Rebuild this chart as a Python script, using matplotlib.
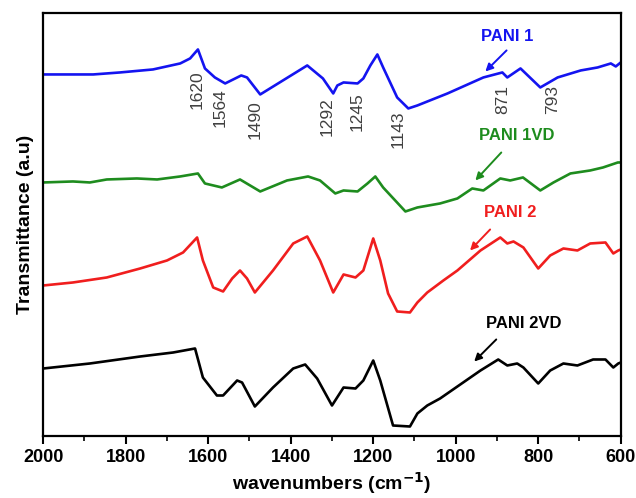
import numpy as np
import matplotlib
matplotlib.use("Agg")
import matplotlib.pyplot as plt

plt.rcParams['font.family'] = ['Liberation Sans', 'DejaVu Sans']

# wavenumbers (cm-1) and transmittance (a.u.)
wn_pani1 = [2000, 1879, 1814, 1734, 1668, 1644, 1625, 1608, 1584, 1559, 1520, 1506, 1474,
            1360, 1322, 1297, 1287, 1272, 1238, 1224, 1207, 1190, 1176, 1142, 1115, 1093,
            1020, 933, 887, 875, 843, 795, 753, 697, 656, 624, 612, 600]
t_pani1 = [361, 361, 363, 366, 372, 377, 386, 367, 358, 352, 360, 358, 341,
           370, 357, 342, 350, 353, 352, 357, 370, 381, 368, 338, 327, 330,
           342, 358, 363, 358, 367, 348, 358, 365, 368, 372, 369, 373]

wn_pani1vd = [2000, 1928, 1887, 1846, 1773, 1724, 1668, 1625, 1608, 1567, 1523, 1474, 1409,
              1358, 1329, 1292, 1272, 1238, 1214, 1195, 1176, 1122, 1093, 1038, 996, 960,
              933, 892, 868, 837, 795, 763, 722, 674, 643, 607, 600]
t_pani1vd = [253, 254, 253, 256, 257, 256, 259, 262, 252, 248, 256, 244, 255,
             259, 255, 242, 245, 244, 252, 259, 248, 224, 228, 232, 237, 247,
             245, 257, 255, 258, 245, 253, 262, 265, 268, 273, 273]

wn_pani2 = [2000, 1928, 1846, 1765, 1700, 1661, 1627, 1613, 1588, 1564, 1542, 1523, 1506,
            1487, 1443, 1394, 1360, 1329, 1297, 1272, 1243, 1224, 1200, 1183, 1164, 1142,
            1111, 1093, 1069, 1030, 996, 940, 892, 875, 860, 836, 800, 771, 739, 705,
            674, 637, 618, 606, 600]
t_pani2 = [150, 153, 158, 167, 175, 183, 198, 175, 148, 144, 157, 165, 157,
           143, 165, 192, 199, 175, 143, 161, 158, 165, 197, 175, 142, 124,
           123, 133, 143, 155, 165, 185, 198, 192, 194, 188, 167, 180, 187, 185,
           192, 193, 182, 185, 186]

wn_pani2vd = [2000, 1887, 1765, 1685, 1632, 1613, 1579, 1564, 1530, 1518, 1487, 1443, 1394,
              1365, 1336, 1300, 1272, 1243, 1224, 1200, 1183, 1152, 1111, 1093, 1069, 1038,
              982, 940, 897, 875, 851, 836, 800, 771, 739, 705, 667, 637, 618, 606, 600]
t_pani2vd = [67, 72, 79, 83, 87, 58, 40, 40, 55, 53, 29, 48, 67,
             71, 57, 30, 48, 47, 55, 75, 55, 10, 9, 22, 30, 37,
             53, 65, 76, 70, 72, 68, 52, 65, 72, 70, 76, 76, 68, 72, 73]

peak_labels = ['1620', '1564', '1490', '1292', '1245', '1143', '871', '793']
peak_x = [1627, 1571, 1487, 1312, 1240, 1140, 885, 766]
peak_y = [365, 347, 335, 338, 343, 325, 350, 350]

names = ['PANI 1', 'PANI 1VD', 'PANI 2', 'PANI 2VD']
colors = ['#1414f0', '#1e8c1e', '#f01e1e', '#000000']
name_xy = [(875, 399), (851, 300), (868, 223), (834, 112)]
arrow_tail = [(872, 387), (885, 285), (912, 208), (897, 98)]
arrow_head = [(933, 362), (957, 253), (970, 183), (960, 72)]

fig = plt.figure(figsize=(6.36, 4.98), dpi=100)
ax = fig.add_axes([0.068, 0.1255, 0.908, 0.8475])

curves = [(wn_pani1, t_pani1), (wn_pani1vd, t_pani1vd),
          (wn_pani2, t_pani2), (wn_pani2vd, t_pani2vd)]
for (wn, t), c in zip(curves, colors):
    ax.plot(wn, t, color=c, lw=1.9, solid_joinstyle='round', solid_capstyle='round')

for lab, x, y in zip(peak_labels, peak_x, peak_y):
    ax.text(x, y, lab, rotation=90, ha='center', va='top', fontsize=12.5, color='#404040')

for name, c, xy, tail, head in zip(names, colors, name_xy, arrow_tail, arrow_head):
    ax.text(xy[0], xy[1], name, color=c, fontsize=12, fontweight='bold',
            ha='center', va='center')
    ax.annotate('', xy=head, xytext=tail,
                arrowprops=dict(arrowstyle='-|>', color=c, lw=1.4, mutation_scale=11))

ax.set_xlim(2000, 600)
ax.set_ylim(0, 422)
ax.set_xticks(np.arange(2000, 599, -200))
ax.set_xticks(np.arange(1900, 600, -200), minor=True)
ax.set_yticks([])
ax.tick_params(axis='x', which='major', direction='out', length=6, width=1.5, labelsize=13)
ax.tick_params(axis='x', which='minor', direction='out', length=3.5, width=1.2)
for lab in ax.get_xticklabels():
    lab.set_fontweight('bold')
for sp in ax.spines.values():
    sp.set_linewidth(1.6)

ax.set_xlabel('wavenumbers (cm$^{\\mathbf{-1}}$)', fontsize=14, fontweight='bold', labelpad=3)
ax.set_ylabel('Transmittance (a.u)', fontsize=14, fontweight='bold', labelpad=7)

fig.savefig('out.png', dpi=100)
